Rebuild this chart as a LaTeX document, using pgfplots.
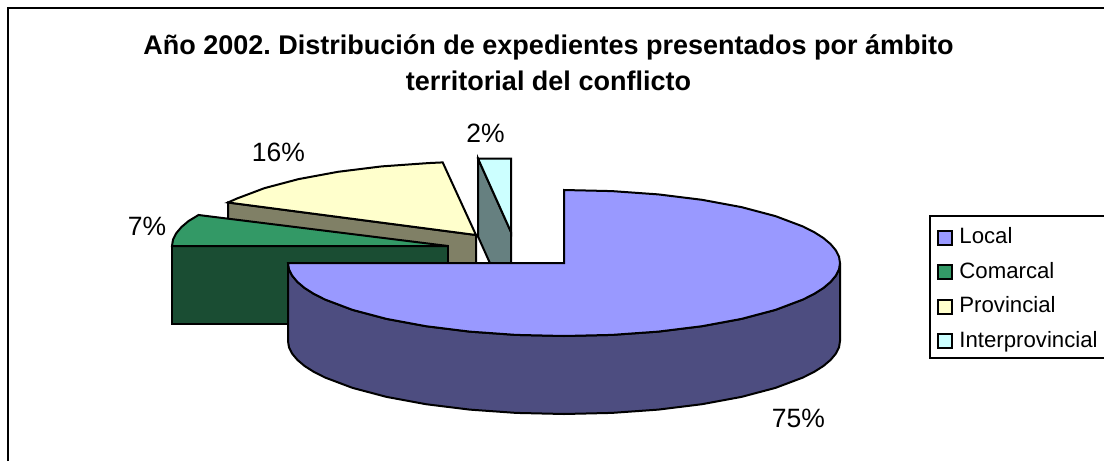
\documentclass[border=0pt]{standalone}
\usepackage{pgfplots}
\pgfplotsset{compat=1.18}
\usepackage{fontspec}
\setmainfont{Liberation Sans}
\frenchspacing
\definecolor{loc}{HTML}{9999FF}\definecolor{locs}{HTML}{4D4D80}
\definecolor{com}{HTML}{339966}\definecolor{coms}{HTML}{1A4D33}
\definecolor{pro}{HTML}{FFFFCC}\definecolor{pros}{HTML}{808066}
\definecolor{int}{HTML}{CCFFFF}\definecolor{ints}{HTML}{668080}
\pgfplotsset{face/.style={draw=black,line width=2pt,line join=miter,mark=none,forget plot}}
\begin{document}
\begin{tikzpicture}
\begin{axis}[
  name=a,
  scale only axis,width=1104pt,height=461pt,
  xmin=0,xmax=1104,ymin=0,ymax=461,y dir=reverse,
  axis lines=none,
  legend cell align=left,
  legend style={at={(axis cs:934,217)},anchor=north west,draw=none,fill=none,
    inner sep=0pt,outer sep=0pt,
    row sep=0pt,
    nodes={font=\fontsize{22.2}{24}\selectfont,inner xsep=0pt,inner ysep=0pt,text height=26.5pt,text depth=8pt,anchor=base west}},
  legend image code/.code={\draw[#1,line width=2pt] (4pt,-1pt) rectangle (18pt,13pt);\path (0pt,0pt) (25pt,0pt);},
]
% frame
\addplot[draw=black,line width=2pt,mark=none,forget plot] coordinates {(8,461) (8,8) (1104,8)};
% legend box
\addplot[draw=black,line width=2pt,mark=none,forget plot] coordinates {(1104,216) (930,216) (930,358) (1104,358)};
% Interprovincial
\addplot[face,fill=ints] coordinates {(478,158.5) (511,232) (511,310) (478,236.5)} -- cycle;
\addplot[face,fill=int] coordinates {(478,158.5) (511,158.5) (511,232)} -- cycle;
% Provincial
\addplot[face,fill=pros] coordinates {(228,202.5) (476,235) (476,313) (228,280.5)} -- cycle;
\addplot[face,fill=pro] coordinates {(228,202.5) (237,198.5) (264.6,188.1) (298.6,179.1) (338,171.8) (381.6,166.4) (428.1,163.1) (442.7,162.4) (476,235)} -- cycle;
% Comarcal
\addplot[face,fill=coms] coordinates {(172,246) (448,246) (448,324) (172,324)} -- cycle;
\addplot[face,fill=com] coordinates {(172,246) (173,239.6) (176.2,233.3) (181.4,227.1) (188.6,221) (198.5,215) (448,246)} -- cycle;
% Local
\addplot[face,fill=locs] coordinates {(840,263) (839,269.4) (835.8,275.7) (830.6,281.9) (823.4,288) (814.1,293.9) (803,299.5) (775.4,309.9) (741.4,318.9) (702,326.2) (658.4,331.6) (611.9,334.9) (564,336) (516.1,334.9) (469.6,331.6) (426,326.2) (386.6,318.9) (352.6,309.9) (325,299.5) (313.9,293.9) (304.6,288) (297.4,281.9) (292.2,275.7) (289,269.4) (288,263) (288,341) (289,347.4) (292.2,353.7) (297.4,359.9) (304.6,366) (313.9,371.9) (325,377.5) (352.6,387.9) (386.6,396.9) (426,404.2) (469.6,409.6) (516.1,412.9) (564,414) (611.9,412.9) (658.4,409.6) (702,404.2) (741.4,396.9) (775.4,387.9) (803,377.5) (814.1,371.9) (823.4,366) (830.6,359.9) (835.8,353.7) (839,347.4) (840,341)} -- cycle;
\addplot[face,fill=loc] coordinates {(564,263) (564,190) (611.9,191.1) (658.4,194.4) (702,199.8) (741.4,207.1) (775.4,216.1) (803,226.5) (814.1,232.1) (823.4,238) (830.6,244.1) (835.8,250.3) (839,256.6) (840,263) (839,269.4) (835.8,275.7) (830.6,281.9) (823.4,288) (814.1,293.9) (803,299.5) (775.4,309.9) (741.4,318.9) (702,326.2) (658.4,331.6) (611.9,334.9) (564,336) (516.1,334.9) (469.6,331.6) (426,326.2) (386.6,318.9) (352.6,309.9) (325,299.5) (313.9,293.9) (304.6,288) (297.4,281.9) (292.2,275.7) (289,269.4) (288,263)} -- cycle;
% legend
\addlegendimage{fill=loc}\addlegendentry{Local}
\addlegendimage{fill=com}\addlegendentry{Comarcal}
\addlegendimage{fill=pro}\addlegendentry{Provincial}
\addlegendimage{fill=int}\addlegendentry{Interprovincial}
% title and labels
\node[font=\fontsize{27}{36}\selectfont\bfseries,align=center,anchor=center] at (axis cs:548.5,63) {Año 2002. Distribución de expedientes presentados por ámbito\\territorial del conflicto};
\node[font=\fontsize{26.5}{30}\selectfont,anchor=center] at (axis cs:278.5,152) {16\%};
\node[font=\fontsize{26.5}{30}\selectfont,anchor=center] at (axis cs:147,226) {7\%};
\node[font=\fontsize{26.5}{30}\selectfont,anchor=center] at (axis cs:485.5,133) {2\%};
\node[font=\fontsize{26.5}{30}\selectfont,anchor=center] at (axis cs:798.5,418) {75\%};
\end{axis}
\pgfresetboundingbox
\path[use as bounding box] (a.south west) rectangle (a.north east);
\end{tikzpicture}
\end{document}
